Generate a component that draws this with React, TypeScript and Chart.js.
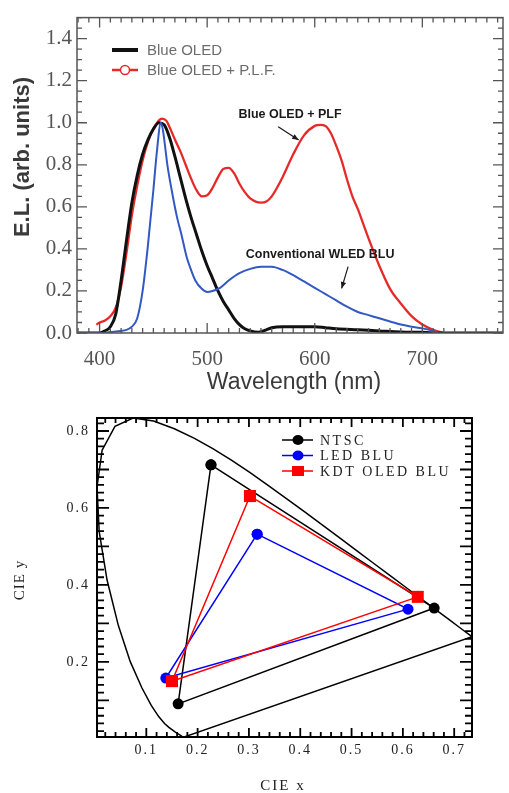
import React, { useEffect, useRef } from 'react';
import { Chart, registerables } from 'chart.js';
Chart.register(...registerables);

// ---------- Top chart: EL spectra ----------
const OLED_NM = [380, 390, 400, 405, 410, 415, 420, 425, 430, 435, 440, 445, 450, 455, 460, 465, 470, 475, 480, 485, 490, 495, 500, 505, 510, 515, 520, 525, 530, 535, 540, 548, 555, 560, 570, 580, 590, 600, 610, 620, 640, 660, 680, 700, 720, 775];
const OLED_EL = [0, 0, 0, 0.01, 0.03, 0.09, 0.25, 0.44, 0.62, 0.75, 0.85, 0.92, 0.97, 1.0, 0.99, 0.93, 0.84, 0.74, 0.64, 0.55, 0.47, 0.39, 0.32, 0.26, 0.2, 0.15, 0.11, 0.07, 0.04, 0.02, 0.01, 0.004, 0.015, 0.025, 0.03, 0.03, 0.03, 0.03, 0.025, 0.02, 0.015, 0.01, 0.005, 0.003, 0, 0];

const PLF_NM = [397, 400, 405, 410, 415, 420, 425, 430, 435, 440, 445, 450, 455, 458, 462, 465, 470, 475, 480, 485, 490, 495, 500, 505, 510, 515, 520, 525, 530, 535, 540, 545, 550, 555, 560, 570, 580, 590, 600, 605, 610, 615, 620, 625, 630, 635, 640, 645, 650, 660, 670, 680, 690, 700, 710, 720];
const PLF_EL = [0.04, 0.05, 0.06, 0.08, 0.12, 0.22, 0.38, 0.56, 0.70, 0.82, 0.91, 0.97, 1.01, 1.02, 1.01, 0.98, 0.92, 0.865, 0.80, 0.735, 0.68, 0.65, 0.655, 0.69, 0.74, 0.78, 0.785, 0.76, 0.71, 0.67, 0.64, 0.625, 0.62, 0.625, 0.65, 0.74, 0.85, 0.94, 0.985, 0.99, 0.985, 0.95, 0.89, 0.82, 0.73, 0.65, 0.59, 0.52, 0.45, 0.32, 0.21, 0.14, 0.08, 0.04, 0.015, 0];

const WLED_NM = [380, 400, 410, 420, 425, 430, 435, 440, 445, 450, 453, 457, 459, 463, 467, 472, 476, 481, 485, 489, 495, 500, 505, 512, 520, 530, 540, 550, 560, 570, 580, 590, 600, 610, 620, 630, 640, 650, 660, 670, 680, 690, 700, 710, 715];
const WLED_EL = [0, 0, 0.005, 0.01, 0.015, 0.03, 0.07, 0.2, 0.42, 0.68, 0.85, 1.0, 0.96, 0.8, 0.68, 0.55, 0.47, 0.36, 0.3, 0.25, 0.21, 0.195, 0.2, 0.215, 0.25, 0.285, 0.305, 0.315, 0.315, 0.3, 0.275, 0.245, 0.215, 0.185, 0.155, 0.125, 0.1, 0.085, 0.07, 0.055, 0.04, 0.03, 0.022, 0.01, 0];

const SPEC_X_TICKS = [400, 500, 600, 700];
const SPEC_Y_TICKS = [0, 0.2, 0.4, 0.6, 0.8, 1.0, 1.2, 1.4];
const SPEC_X_RANGE = [379, 775];
const SPEC_Y_RANGE = [0, 1.5];

// annotation text + arrows in data coordinates
const SPEC_NOTES = [
  { text: 'Blue OLED + PLF', x: 577, y: 1.037, ax0: 566, ay0: 0.981, ax1: 585, ay1: 0.918 },
  { text: 'Conventional WLED BLU', x: 605, y: 0.372, ax0: 631, ay0: 0.316, ax1: 625, ay1: 0.212 },
];

// ---------- Bottom chart: CIE 1931 ----------
const LOCUS_X = [0.1741, 0.1733, 0.1726, 0.1714, 0.1689, 0.1644, 0.1566, 0.1440, 0.1355, 0.1241, 0.1096, 0.0913, 0.0687, 0.0454, 0.0235, 0.0082, 0.0039, 0.0139, 0.0389, 0.0743, 0.1142, 0.1547, 0.1929, 0.2296, 0.2658, 0.3016, 0.3373, 0.3731, 0.4087, 0.4441, 0.4788, 0.5125, 0.5448, 0.5752, 0.6029, 0.6270, 0.6482, 0.6658, 0.6915, 0.7079, 0.7190, 0.7260, 0.7300, 0.7334, 0.7347, 0.1741];
const LOCUS_Y = [0.0050, 0.0048, 0.0048, 0.0051, 0.0069, 0.0109, 0.0177, 0.0297, 0.0399, 0.0578, 0.0868, 0.1327, 0.2007, 0.2950, 0.4127, 0.5384, 0.6548, 0.7502, 0.8120, 0.8338, 0.8262, 0.8059, 0.7816, 0.7543, 0.7243, 0.6923, 0.6589, 0.6245, 0.5896, 0.5547, 0.5202, 0.4866, 0.4544, 0.4242, 0.3965, 0.3725, 0.3514, 0.3340, 0.3083, 0.2920, 0.2809, 0.2740, 0.2700, 0.2666, 0.2653, 0.0050];

const NTSC_X = [0.226, 0.661, 0.162, 0.226];
const NTSC_Y = [0.712, 0.340, 0.091, 0.712];
const LED_X = [0.316, 0.610, 0.138, 0.316];
const LED_Y = [0.532, 0.337, 0.158, 0.532];
const KDT_X = [0.302, 0.629, 0.150, 0.302];
const KDT_Y = [0.631, 0.369, 0.150, 0.631];

const CIE_X_TICKS = [0.1, 0.2, 0.3, 0.4, 0.5, 0.6, 0.7];
const CIE_Y_TICKS = [0.2, 0.4, 0.6, 0.8];
const CIE_X_RANGE = [0.0039, 0.7347];
const CIE_Y_RANGE = [0.0048, 0.8338];

const SANS = "'Liberation Sans', Arial, sans-serif";
const SERIF = "'Liberation Serif', 'Times New Roman', serif";

const pts = (xs: number[], ys: number[]) => xs.map((x, i) => ({ x, y: ys[i] }));

function inwardTicks(ctx: CanvasRenderingContext2D, scale: any, area: any, step: number, majorEvery: number, minorLen: number, majorLen: number, isX: boolean) {
  const k0 = Math.ceil(scale.min / step - 1e-6);
  const k1 = Math.floor(scale.max / step + 1e-6);
  ctx.beginPath();
  for (let k = k0; k <= k1; k++) {
    const v = k * step;
    const len = k % majorEvery === 0 ? majorLen : minorLen;
    const p = scale.getPixelForValue(v);
    if (isX) {
      ctx.moveTo(p, area.bottom); ctx.lineTo(p, area.bottom - len);
      ctx.moveTo(p, area.top); ctx.lineTo(p, area.top + len);
    } else {
      ctx.moveTo(area.left, p); ctx.lineTo(area.left + len, p);
      ctx.moveTo(area.right, p); ctx.lineTo(area.right - len, p);
    }
  }
  ctx.stroke();
}

const topDecor = {
  id: 'topDecor',
  afterDraw(chart: any) {
    const { ctx, chartArea: a, scales } = chart;
    const xs = scales.x, ys = scales.y;
    ctx.save();
    // frame + ticks
    ctx.strokeStyle = '#555';
    ctx.lineWidth = 1.5;
    ctx.strokeRect(a.left, a.top, a.right - a.left, a.bottom - a.top);
    ctx.lineWidth = 1.3;
    inwardTicks(ctx, xs, a, 10, 10, 5, 10, true);
    inwardTicks(ctx, ys, a, 0.05, 4, 5, 10, false);

    // legend
    const ds = chart.data.datasets;
    const leg = [ds[1], ds[2]];
    leg.forEach((d: any, i: number) => {
      const y = 50 + i * 20;
      ctx.strokeStyle = d.borderColor;
      ctx.lineWidth = i === 0 ? 4 : 2.5;
      ctx.beginPath(); ctx.moveTo(112, y); ctx.lineTo(138, y); ctx.stroke();
      if (i === 1) {
        ctx.beginPath(); ctx.arc(125, y, 4.5, 0, Math.PI * 2);
        ctx.fillStyle = '#fff'; ctx.fill(); ctx.lineWidth = 1.5; ctx.stroke();
      }
      ctx.fillStyle = '#6c6c6c';
      ctx.font = `15px ${SANS}`;
      ctx.textAlign = 'left'; ctx.textBaseline = 'middle';
      ctx.fillText(d.label, 147, y + 1);
    });

    // annotations
    SPEC_NOTES.forEach((n) => {
      ctx.fillStyle = '#1a1a1a';
      ctx.font = `bold 12.5px ${SANS}`;
      ctx.textAlign = 'center'; ctx.textBaseline = 'middle';
      ctx.fillText(n.text, xs.getPixelForValue(n.x), ys.getPixelForValue(n.y));
      const x0 = xs.getPixelForValue(n.ax0), y0 = ys.getPixelForValue(n.ay0);
      const x1 = xs.getPixelForValue(n.ax1), y1 = ys.getPixelForValue(n.ay1);
      ctx.strokeStyle = '#1a1a1a'; ctx.lineWidth = 1.2;
      ctx.beginPath(); ctx.moveTo(x0, y0); ctx.lineTo(x1, y1); ctx.stroke();
      const ang = Math.atan2(y1 - y0, x1 - x0);
      ctx.beginPath();
      ctx.moveTo(x1, y1);
      ctx.lineTo(x1 - 7 * Math.cos(ang - 0.4), y1 - 7 * Math.sin(ang - 0.4));
      ctx.lineTo(x1 - 7 * Math.cos(ang + 0.4), y1 - 7 * Math.sin(ang + 0.4));
      ctx.closePath(); ctx.fill();
    });

    // axis titles
    ctx.fillStyle = '#3a3a3a';
    ctx.font = `23px ${SANS}`;
    ctx.textAlign = 'center'; ctx.textBaseline = 'middle';
    ctx.fillText('Wavelength (nm)', 294, 383);
    ctx.translate(23, 157);
    ctx.rotate(-Math.PI / 2);
    ctx.font = `bold 22px ${SANS}`;
    ctx.fillText('E.L. (arb. units)', 0, 0);
    ctx.restore();
  },
};

const botDecor = {
  id: 'botDecor',
  beforeDraw(chart: any) {
    (chart.ctx as any).letterSpacing = '2px';
  },
  afterDraw(chart: any) {
    const { ctx, chartArea: a, scales } = chart;
    ctx.save();
    ctx.strokeStyle = '#000';
    ctx.lineWidth = 2;
    ctx.strokeRect(a.left, a.top, a.right - a.left, a.bottom - a.top);
    ctx.lineWidth = 1.8;
    inwardTicks(ctx, scales.x, a, 0.02, 5, 5, 9, true);
    inwardTicks(ctx, scales.y, a, 0.02, 5, 7, 12, false);

    // legend
    const ds = chart.data.datasets.filter((d: any) => d.label !== 'Spectrum locus');
    ds.forEach((d: any, i: number) => {
      const y = 40 + i * 15.5;
      ctx.strokeStyle = d.borderColor; ctx.lineWidth = 1.5;
      ctx.beginPath(); ctx.moveTo(282, y); ctx.lineTo(313, y); ctx.stroke();
      ctx.fillStyle = d.pointBackgroundColor;
      if (d.pointStyle === 'rect') ctx.fillRect(292, y - 5, 12, 10);
      else { ctx.beginPath(); ctx.ellipse(298, y, 5.5, 5, 0, 0, Math.PI * 2); ctx.fill(); }
      ctx.fillStyle = '#222';
      ctx.font = `14px ${SERIF}`;
      (ctx as any).letterSpacing = '2.5px';
      ctx.textAlign = 'left'; ctx.textBaseline = 'middle';
      ctx.fillText(d.label, 320, y + 1);
    });

    // axis titles
    ctx.fillStyle = '#222';
    ctx.font = `15px ${SERIF}`;
    (ctx as any).letterSpacing = '2px';
    ctx.textAlign = 'center'; ctx.textBaseline = 'middle';
    ctx.fillText('CIE x', 283, 386);
    ctx.translate(20, 180);
    ctx.rotate(-Math.PI / 2);
    (ctx as any).letterSpacing = '1px';
    ctx.fillText('CIE y', 0, 0);
    ctx.restore();
  },
};

function topConfig(): any {
  return {
    type: 'line',
    data: {
      datasets: [
        { label: 'Conventional WLED BLU', data: pts(WLED_NM, WLED_EL), borderColor: '#3258c4', borderWidth: 2, pointRadius: 0, cubicInterpolationMode: 'monotone', order: 0 },
        { label: 'Blue OLED', data: pts(OLED_NM, OLED_EL), borderColor: '#111111', borderWidth: 3, pointRadius: 0, cubicInterpolationMode: 'monotone', order: 1 },
        { label: 'Blue OLED + P.L.F.', data: pts(PLF_NM, PLF_EL), borderColor: '#e62a2a', borderWidth: 2.3, pointRadius: 0, cubicInterpolationMode: 'monotone', order: 2 },
      ],
    },
    options: {
      responsive: false,
      animation: false,
      devicePixelRatio: 1,
      layout: { padding: { top: 12, right: 6, left: 0, bottom: 0 } },
      plugins: { legend: { display: false }, tooltip: { enabled: false } },
      scales: {
        x: {
          type: 'linear', min: SPEC_X_RANGE[0], max: SPEC_X_RANGE[1],
          afterFit: (s: any) => { s.height = 67; },
          afterBuildTicks: (s: any) => { s.ticks = SPEC_X_TICKS.map((v) => ({ value: v })); },
          grid: { display: false, drawTicks: false }, border: { display: false },
          ticks: { autoSkip: false, maxRotation: 0, padding: 14, color: '#555', font: { family: SERIF, size: 21 }, callback: (v: number) => String(v) },
        },
        y: {
          type: 'linear', min: SPEC_Y_RANGE[0], max: SPEC_Y_RANGE[1],
          afterFit: (s: any) => { s.width = 77; },
          afterBuildTicks: (s: any) => { s.ticks = SPEC_Y_TICKS.map((v) => ({ value: v })); },
          grid: { display: false, drawTicks: false }, border: { display: false },
          ticks: { autoSkip: false, padding: 5, color: '#555', font: { family: SERIF, size: 21 }, callback: (v: number) => v.toFixed(1) },
        },
      },
    },
    plugins: [topDecor],
  };
}

function botConfig(): any {
  return {
    type: 'scatter',
    data: {
      datasets: [
        { label: 'NTSC', data: pts(NTSC_X, NTSC_Y), showLine: true, borderColor: '#000', borderWidth: 1.5, pointStyle: 'circle', pointRadius: 5.5, pointBackgroundColor: '#000', pointBorderWidth: 0, order: 2 },
        { label: 'LED BLU', data: pts(LED_X, LED_Y), showLine: true, borderColor: '#0000ff', borderWidth: 1.5, pointStyle: 'circle', pointRadius: 5.5, pointBackgroundColor: '#0000ff', pointBorderWidth: 0, order: 1 },
        { label: 'KDT OLED BLU', data: pts(KDT_X, KDT_Y), showLine: true, borderColor: '#ff0000', borderWidth: 1.5, pointStyle: 'rect', pointRadius: 8.5, pointBackgroundColor: '#ff0000', pointBorderWidth: 0, order: 0 },
        { label: 'Spectrum locus', data: pts(LOCUS_X, LOCUS_Y), showLine: true, borderColor: '#000', borderWidth: 1.5, pointRadius: 0, order: 3 },
      ],
    },
    options: {
      responsive: false,
      animation: false,
      devicePixelRatio: 1,
      layout: { padding: { top: 18, right: 37, left: 0, bottom: 0 } },
      plugins: { legend: { display: false }, tooltip: { enabled: false } },
      scales: {
        x: {
          type: 'linear', min: CIE_X_RANGE[0], max: CIE_X_RANGE[1],
          afterFit: (s: any) => { s.height = 56; },
          afterBuildTicks: (s: any) => { s.ticks = CIE_X_TICKS.map((v) => ({ value: v })); },
          grid: { display: false, drawTicks: false }, border: { display: false },
          ticks: { autoSkip: false, maxRotation: 0, padding: 5, color: '#222', font: { family: SERIF, size: 14 }, callback: (v: number) => v.toFixed(1) },
        },
        y: {
          type: 'linear', min: CIE_Y_RANGE[0], max: CIE_Y_RANGE[1],
          afterFit: (s: any) => { s.width = 97; },
          afterBuildTicks: (s: any) => { s.ticks = CIE_Y_TICKS.map((v) => ({ value: v })); },
          grid: { display: false, drawTicks: false }, border: { display: false },
          ticks: { autoSkip: false, padding: 7, color: '#222', font: { family: SERIF, size: 14 }, callback: (v: number) => v.toFixed(1) },
        },
      },
    },
    plugins: [botDecor],
  };
}

export default function App() {
  const topRef = useRef<HTMLCanvasElement>(null);
  const botRef = useRef<HTMLCanvasElement>(null);
  useEffect(() => {
    const c1 = new Chart(topRef.current as HTMLCanvasElement, topConfig());
    const c2 = new Chart(botRef.current as HTMLCanvasElement, botConfig());
    return () => { c1.destroy(); c2.destroy(); };
  }, []);
  return (
    <div style={{ position: 'absolute', left: 0, top: 0, width: 509, height: 793, background: '#fff', overflow: 'hidden' }}>
      <canvas ref={topRef} width={509} height={400} style={{ position: 'absolute', left: 0, top: 0, width: 509, height: 400 }} />
      <canvas ref={botRef} width={509} height={393} style={{ position: 'absolute', left: 0, top: 400, width: 509, height: 393 }} />
    </div>
  );
}
